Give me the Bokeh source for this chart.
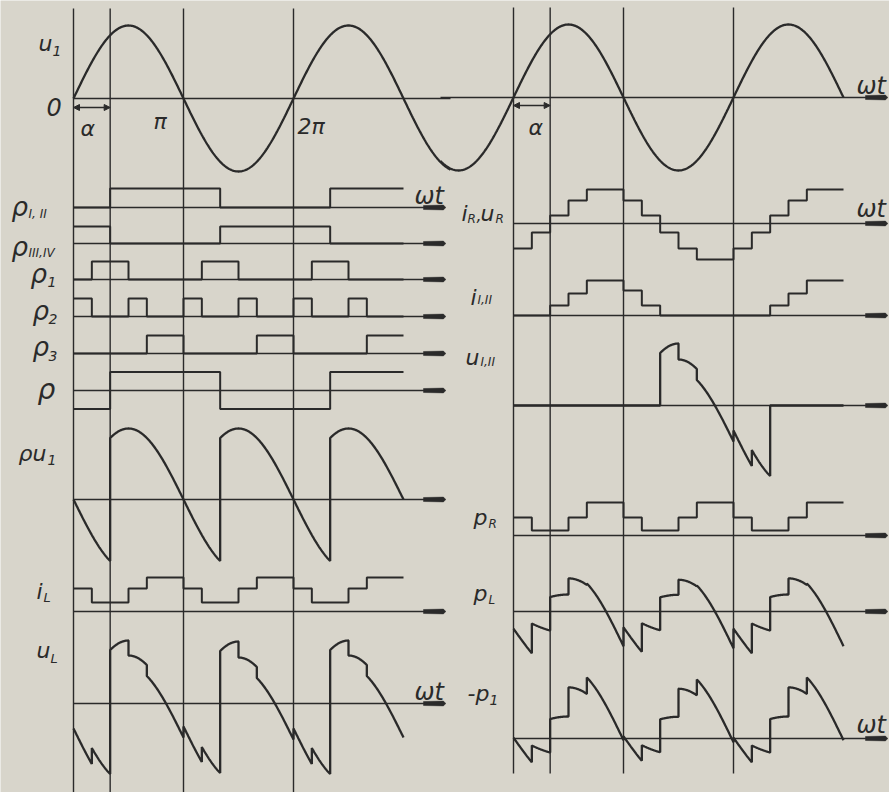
import numpy as np
from bokeh.plotting import figure
from bokeh.models import Range1d, Label, Arrow, NormalHead
from bokeh.embed import file_html
from bokeh.resources import INLINE

# ---------------- data: ωt in units of π, values in drawing units ----------------
alpha = 1/3                      # switching angle α = π/3
u1_amp = 73                      # amplitude of u1
rho_u1_amp = 71                  # amplitude of ρ·u1

rho_I_II_t = [0, 1/3, 4/3, 7/3, 3]
rho_I_II_v = [0, 19, 0, 19]
rho_III_IV_t = [0, 1/3, 4/3, 7/3, 3]
rho_III_IV_v = [17, 0, 17, 0]
rho1_t = [0, 1/6, 1/2, 7/6, 3/2, 13/6, 5/2, 3]
rho1_v = [0, 18, 0, 18, 0, 18, 0]
rho2_t = [0, 1/6, 1/2, 2/3, 1, 7/6, 3/2, 5/3, 2, 13/6, 5/2, 8/3, 3]
rho2_v = [18, 0, 18, 0, 18, 0, 18, 0, 18, 0, 18, 0]
rho3_t = [0, 2/3, 1, 5/3, 2, 8/3, 3]
rho3_v = [0, 18, 0, 18, 0, 18]
rho_t = [0, 1/3, 4/3, 7/3, 3]
rho_v = [-1, 1, -1, 1]
rho_draw = 18.5                  # drawn height of ρ = ±1

iL_t = [0, 1/6, 1/2, 2/3, 1]     # one period (π)
iL_v = [23, 9, 23, 34]
uR_t = [0, 1/6, 1/3, 1/2, 2/3, 1, 7/6, 4/3, 3/2, 5/3, 2]   # one period (2π)
uR_v = [-25, -9, 8, 23, 34, 23, 8, -9, -25, -36]
iI_t = [0, 1/3, 1/2, 2/3, 1, 7/6, 4/3, 7/3, 5/2, 8/3, 3]
iI_v = [0, 10, 22, 35, 25, 10, 0, 10, 22, 35]
pR_t = [0, 1/6, 1/2, 2/3, 1]     # one period (π)
pR_v = [18, 5, 18, 33]
uI_window = [4/3, 7/3]           # interval where u_I,II is non-zero
p_scale = 0.03                   # scale of p_L = i_L·u_L

T_END = 3.0

# ---------------- layout ----------------
INK = "#2a2a2a"
BG = "#d8d5cb"
R_SHIFT = 4.0                    # right column origin offset (units of π)
PX = 110.0                       # pixels per π
X0 = 73.0                        # left origin, page px
W, H = 889, 792
LEFT_AX_END = (445 - X0) / PX
RIGHT_AX_END = R_SHIFT + (887 - 513) / PX
L = dict(u1=98, rI=207, rIII=243, r1=279, r2=316, r3=353, r=390, ru1=499, iL=611, uL=703)
R = dict(u1=97, uR=223, iI=315, uI=405, pR=535, pL=611, p1=738)

p = figure(width=W, height=H,
           x_range=Range1d((0 - X0) / PX, (W - X0) / PX),
           y_range=Range1d(-H, 0),
           output_backend="svg", toolbar_location=None, tools="", min_border=0,
           x_axis_location=None, y_axis_location=None,
           background_fill_color=BG, border_fill_color=BG, outline_line_color=None)
p.grid.visible = False


def expand(t, v, period, t0, t1):
    segs = []
    reps = range(int(np.floor(t0 / period)), int(np.ceil(t1 / period)) + 1) if period else [0]
    for k in reps:
        off = k * period if period else 0
        for a, b, val in zip(t[:-1], t[1:], v):
            a2, b2 = a + off, b + off
            if b2 <= t0 or a2 >= t1:
                continue
            segs.append((max(a2, t0), min(b2, t1), val))
    return segs


def seg_xy(segs, scale=1.0):
    xs, ys = [], []
    for a, b, val in segs:
        xs += [a, b]
        ys += [val * scale, val * scale]
    return np.array(xs), np.array(ys)


def val_at(segs, m):
    for a, b, val in segs:
        if a <= m <= b:
            return val
    return 0


rho_s = expand(rho_t, rho_v, None, 0, T_END)
iL_s = expand(iL_t, iL_v, 1.0, 0, T_END)
uR_s = expand(uR_t, uR_v, 2.0, 0, T_END)
pR_s = expand(pR_t, pR_v, 1.0, 0, T_END)
iI_s = expand(iI_t, iI_v, None, 0, T_END)
breaks = sorted(set([a for s in (rho_s, iL_s, uR_s, pR_s) for a, b, v in s]
                    + [T_END] + uI_window))


def sampled(fn, t0=0.0, t1=T_END, n=40):
    bs = sorted(set([t0, t1] + [b for b in breaks if t0 < b < t1]))
    xs, ys = [], []
    for a, b in zip(bs[:-1], bs[1:]):
        tt = np.linspace(a, b, n)
        m = 0.5 * (a + b)
        xs.extend(tt)
        ys.extend(fn(tt, m))
    return np.array(xs), np.array(ys)


def f_rho_u1(tt, m):
    return val_at(rho_s, m) * rho_u1_amp * np.sin(np.pi * tt)


def f_uL(tt, m):
    return val_at(rho_s, m) * (rho_u1_amp * np.sin(np.pi * tt) - val_at(uR_s, m))


def f_pL(tt, m):
    return p_scale * val_at(iL_s, m) * f_uL(tt, m)


def f_p1neg(tt, m):
    return val_at(pR_s, m) + f_pL(tt, m)


def f_uI(tt, m):
    if uI_window[0] <= m <= uI_window[1]:
        return f_uL(tt, m)
    return np.zeros_like(tt)


# ---------------- vertical reference lines ----------------
vx_left = [0, alpha, 1, 2]
p.segment(x0=vx_left, y0=-8, x1=vx_left, y1=-792, line_color=INK, line_width=1.4)
vx_right = [R_SHIFT + v for v in vx_left]
p.segment(x0=vx_right, y0=-7, x1=vx_right, y1=-773, line_color=INK, line_width=1.4)


# ---------------- horizontal axes with arrow heads ----------------
def axis(x0, x1, base, arrow=True):
    p.segment(x0=[x0], y0=[-base], x1=[x1], y1=[-base], line_color=INK, line_width=1.6)
    if arrow:
        hl = 22 / PX
        p.patch([x1 - hl, x1 - 2 / PX, x1, x1 - 2 / PX, x1 - hl],
                [-base + 2.0, -base + 2.4, -base, -base - 2.4, -base - 2.0],
                fill_color=INK, line_color=INK, line_width=0.5)


axis(0, (450 - X0) / PX, L["u1"], arrow=False)
for k in ["rI", "rIII", "r1", "r2", "r3", "r", "ru1", "iL", "uL"]:
    axis(0, LEFT_AX_END, L[k])
axis(R_SHIFT + (440 - 513) / PX, RIGHT_AX_END, R["u1"])
for k in ["uR", "iI", "uI", "pR", "pL", "p1"]:
    axis(R_SHIFT, RIGHT_AX_END, R[k])

LW = 2.3

# ---------------- left column curves ----------------
t = np.linspace(0, (450 - X0) / PX, 500)
p.line(t, -L["u1"] + u1_amp * np.sin(np.pi * t), line_color=INK, line_width=LW)

for tb, vb, key in [(rho_I_II_t, rho_I_II_v, "rI"), (rho_III_IV_t, rho_III_IV_v, "rIII"),
                    (rho1_t, rho1_v, "r1"), (rho2_t, rho2_v, "r2"), (rho3_t, rho3_v, "r3")]:
    xs, ys = seg_xy(expand(tb, vb, None, 0, T_END))
    p.line(xs, -L[key] + ys, line_color=INK, line_width=LW - 0.3)

xs, ys = seg_xy(rho_s, rho_draw)
p.line(xs, -L["r"] + ys, line_color=INK, line_width=LW - 0.3)

xs, ys = sampled(f_rho_u1)
p.line(xs, -L["ru1"] + ys, line_color=INK, line_width=LW)

xs, ys = seg_xy(iL_s)
p.line(xs, -L["iL"] + ys, line_color=INK, line_width=LW - 0.3)

xs, ys = sampled(f_uL)
p.line(xs, -L["uL"] + ys, line_color=INK, line_width=LW)

# ---------------- right column curves ----------------
t = np.linspace((440 - 513) / PX, T_END, 500)
p.line(R_SHIFT + t, -R["u1"] + u1_amp * np.sin(np.pi * t), line_color=INK, line_width=LW)

xs, ys = seg_xy(uR_s)
p.line(R_SHIFT + xs, -R["uR"] + ys, line_color=INK, line_width=LW - 0.3)

xs, ys = seg_xy(iI_s)
p.line(R_SHIFT + xs, -R["iI"] + ys, line_color=INK, line_width=LW - 0.3)

xs, ys = sampled(f_uI)
p.line(R_SHIFT + xs, -R["uI"] + ys, line_color=INK, line_width=LW)

xs, ys = seg_xy(pR_s)
p.line(R_SHIFT + xs, -R["pR"] + ys, line_color=INK, line_width=LW - 0.3)

xs, ys = sampled(f_pL)
p.line(R_SHIFT + xs, -R["pL"] + ys, line_color=INK, line_width=LW)

xs, ys = sampled(f_p1neg)
p.line(R_SHIFT + xs, -R["p1"] + ys, line_color=INK, line_width=LW)

# ---------------- α dimension arrows ----------------
for x0, yb in [(0, 107), (R_SHIFT, 105)]:
    p.add_layout(Arrow(start=NormalHead(size=6, fill_color=INK, line_color=INK),
                       end=NormalHead(size=6, fill_color=INK, line_color=INK),
                       x_start=x0, y_start=-yb, x_end=x0 + alpha, y_end=-yb,
                       line_color=INK, line_width=1.4))

# ---------------- labels ----------------
FONT = "DejaVu Sans"


def lab(text, px, py, size=22, style="italic"):
    p.add_layout(Label(x=(px - X0) / PX, y=-py, text=text, text_font=FONT,
                       text_font_size=f"{size}px", text_font_style=style,
                       text_color=INK, text_align="left", text_baseline="alphabetic"))


# left
lab("u", 38, 43); lab("1", 52, 50, 14)
lab("0", 46, 106, 24)
lab("α", 80, 128)
lab("π", 153, 121)
lab("2π", 297, 126)
lab("ωt", 414, 195, 24)
lab("ρ", 11, 206, 26); lab("I, II", 28, 213, 12)
lab("ρ", 11, 246, 26); lab("III,IV", 28, 252, 12)
lab("ρ", 30, 273, 26); lab("1", 47, 281, 14)
lab("ρ", 32, 310, 26); lab("2", 48, 318, 14)
lab("ρ", 32, 346, 26); lab("3", 48, 355, 14)
lab("ρ", 37, 389, 28)
lab("ρu", 18, 453); lab("1", 47, 459, 14)
lab("i", 36, 591); lab("L", 43, 597, 13)
lab("u", 36, 650); lab("L", 50, 658, 13)
lab("ωt", 414, 691, 24)
# right
lab("ωt", 856, 85, 24)
lab("α", 528, 127)
lab("ωt", 856, 208, 24)
lab("i", 461, 213); lab("R", 467, 218, 12); lab(",", 476, 214, 16)
lab("u", 480, 213); lab("R", 495, 218, 12)
lab("i", 470, 297); lab("I,II", 477, 299, 12)
lab("u", 465, 357); lab("I,II", 480, 361, 12)
lab("p", 473, 517); lab("R", 488, 523, 12)
lab("p", 473, 593); lab("L", 488, 599, 12)
lab("-p", 467, 693); lab("1", 489, 699, 14)
lab("ωt", 856, 724, 24)

open("out.html", "w").write(file_html(p, INLINE))
